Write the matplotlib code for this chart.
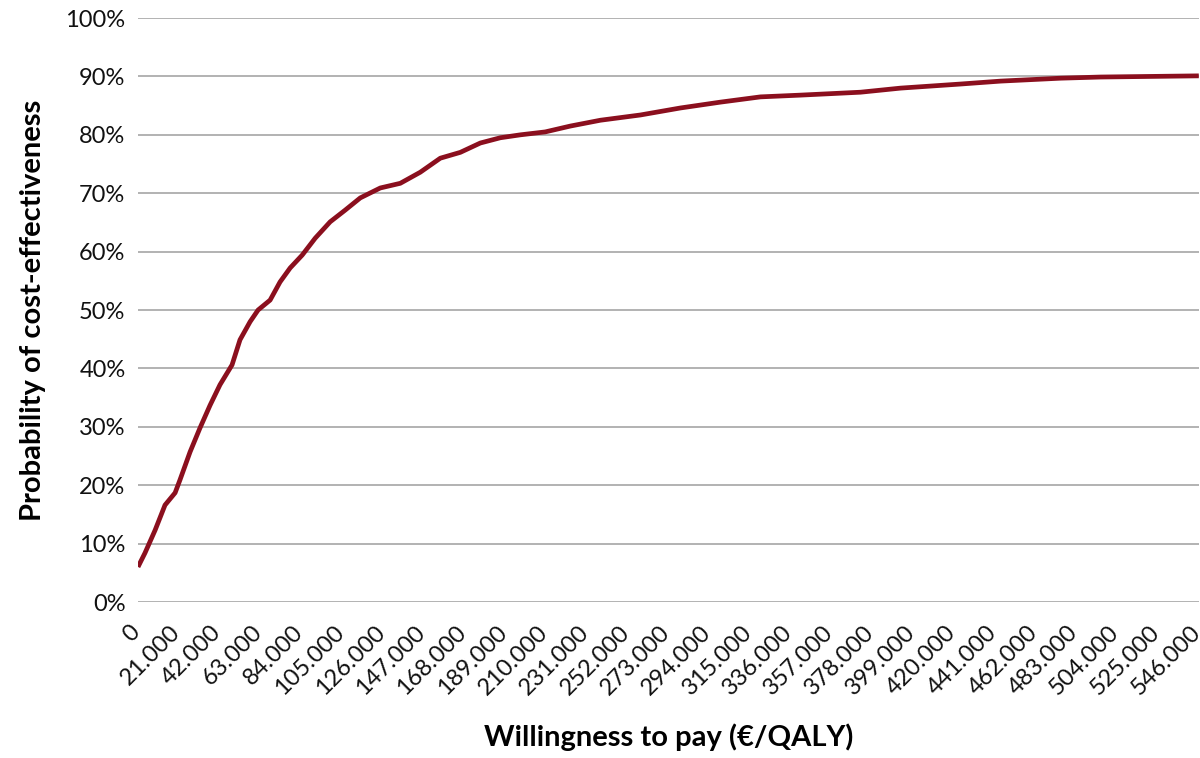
import matplotlib.pyplot as plt
import matplotlib.transforms as mtransforms
from matplotlib.ticker import FuncFormatter, MultipleLocator

# acceptability curve
wtp = [0, 3.6, 8.8, 13.9, 19.1, 21.6, 26.8, 31.9, 37.1, 42.2, 48.4, 52.5,
       57.7, 61.8, 68.0, 73.1, 78.3, 84.5, 91.2, 98.9, 106.6, 114.4, 124.7,
       135.0, 145.3, 155.6, 165.9, 176.2, 186.5, 196.8, 209.6, 222.5, 238.0,
       258.6, 279.2, 299.8, 320.4, 341.0, 371.9, 392.5, 423.4, 444.0, 474.9,
       495.5, 546.0]  # thousand EUR / QALY
prob = [6.0, 8.4, 12.3, 16.6, 18.7, 20.9, 25.7, 29.8, 33.7, 37.2, 40.6, 44.9,
        48.0, 50.0, 51.7, 54.8, 57.2, 59.4, 62.3, 65.1, 67.1, 69.2, 70.9,
        71.7, 73.6, 76.0, 77.0, 78.6, 79.5, 80.0, 80.5, 81.5, 82.5,
        83.4, 84.6, 85.6, 86.5, 86.8, 87.3, 88.0, 88.7, 89.2, 89.7,
        89.9, 90.1]  # percent

x = [w * 1000 for w in wtp]
y = [p / 100 for p in prob]

plt.rcParams['font.family'] = ['Lato', 'DejaVu Sans']

fig = plt.figure(figsize=(12, 7.58), dpi=100)
ax = fig.add_axes([0.115, 0.2058, 0.884, 0.7704])

ax.plot(x, y, color='#8B0F1E', linewidth=3.4, solid_capstyle='butt', zorder=3)

ax.set_xlim(0, 546000)
ax.set_ylim(0, 1)
ax.xaxis.set_major_locator(MultipleLocator(21000))
ax.yaxis.set_major_locator(MultipleLocator(0.1))
ax.xaxis.set_major_formatter(FuncFormatter(
    lambda v, p: '0' if v == 0 else f'{v:,.0f}'.replace(',', '.')))
ax.yaxis.set_major_formatter(FuncFormatter(lambda v, p: f'{v * 100:.0f}%'))

ax.grid(axis='y', color='#a6a6a6', linewidth=1.2)
ax.set_axisbelow(True)
for s in ax.spines.values():
    s.set_visible(False)
ax.tick_params(length=0, labelsize=17, colors='#111111')
ax.tick_params(axis='y', pad=9)
ax.tick_params(axis='x', pad=14)
# nudge rotated labels left so the last one stays inside the figure
shift = mtransforms.ScaledTranslation(-9 / 100, 0, fig.dpi_scale_trans)
for lbl in ax.get_xticklabels():
    lbl.set_rotation(45)
    lbl.set_ha('right')
    lbl.set_va('top')
    lbl.set_rotation_mode('anchor')
    lbl.set_transform(lbl.get_transform() + shift)

ax.set_xlabel('Willingness to pay (€/QALY)', fontsize=21, fontweight='bold', labelpad=18)
ax.set_ylabel('Probability of cost-effectiveness', fontsize=21, fontweight='bold', labelpad=14)

fig.savefig('out.png', dpi=100)
